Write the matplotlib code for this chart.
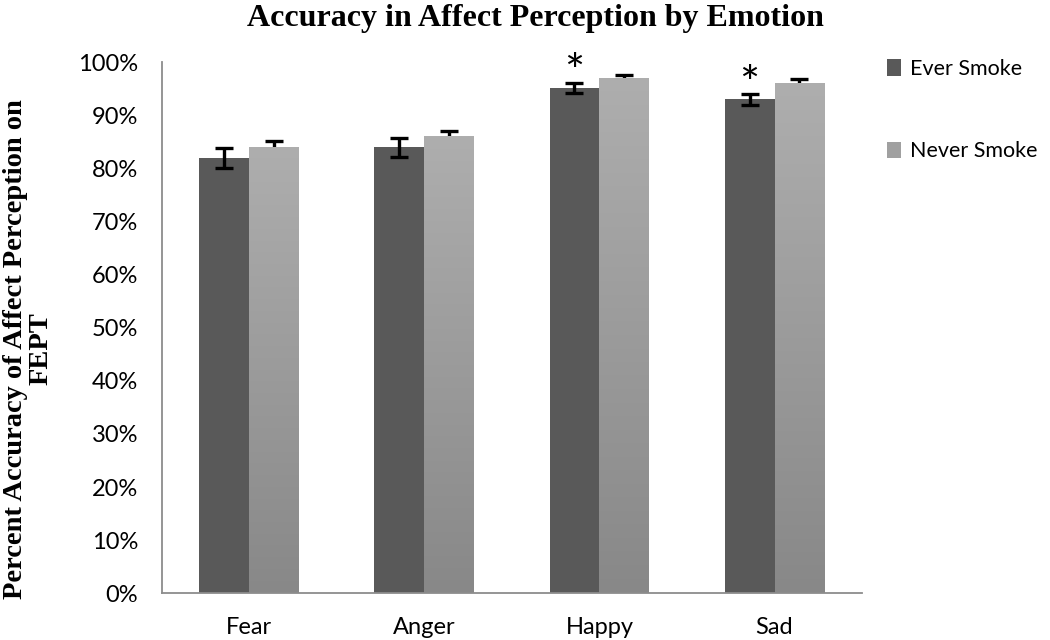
import numpy as np
import matplotlib
matplotlib.use("Agg")
import matplotlib.pyplot as plt
from matplotlib.ticker import PercentFormatter
from matplotlib.colors import LinearSegmentedColormap

# ── data ──────────────────────────────────────────────────────────────────────
emotions = ["Fear", "Anger", "Happy", "Sad"]
ever_smoke = [82.0, 84.0, 95.1, 93.0]
ever_err = [1.9, 1.8, 1.0, 1.0]
never_smoke = [84.0, 86.0, 97.0, 96.1]
never_err = [1.2, 1.1, 0.6, 0.65]
significant = [False, False, True, True]

DARK = "#595959"
serif = ["Liberation Serif", "DejaVu Serif"]
sans = ["Lato", "DejaVu Sans"]

fig = plt.figure(figsize=(10.5, 6.4), dpi=100)
ax = fig.add_axes([0.154, 0.073, 0.667, 0.83])

x = np.arange(len(emotions))
w = 0.285
ekw = dict(elinewidth=2.4, capsize=6.5, capthick=2.4, ecolor="black")
b1 = ax.bar(x - w / 2, ever_smoke, w, color=DARK, yerr=ever_err,
            error_kw=ekw, label="Ever Smoke", zorder=2)
b2 = ax.bar(x + w / 2, never_smoke, w, color="#A0A0A0", yerr=never_err,
            error_kw=ekw, label="Never Smoke", zorder=2)

# vertical gradient on the light bars
cmap = LinearSegmentedColormap.from_list("lg", ["#888888", "#AEAEAE"])
grad = np.linspace(0, 1, 256).reshape(-1, 1)
for bar in b2:
    bx, by = bar.get_x(), bar.get_y()
    bw, bh = bar.get_width(), bar.get_height()
    im = ax.imshow(grad, cmap=cmap, origin="lower", aspect="auto",
                   extent=[bx, bx + bw, by, by + bh], zorder=2.1)
    im.set_clip_path(bar)
    bar.set_facecolor("none")

# significance markers
for i, sig in enumerate(significant):
    if sig:
        ax.annotate("*", (x[i] - w / 2, ever_smoke[i] + ever_err[i]),
                    xytext=(0, 6), textcoords="offset points",
                    ha="center", va="center", fontsize=34,
                    family=sans, color="black")

ax.set_xlim(-0.5, len(emotions) - 0.5)
ax.set_ylim(0, 100)
ax.set_yticks(np.arange(0, 101, 10))
ax.yaxis.set_major_formatter(PercentFormatter(decimals=0))
ax.set_xticks(x)
ax.set_xticklabels(emotions)
ax.tick_params(length=0, labelsize=17)
ax.tick_params(axis="y", pad=17)
ax.tick_params(axis="x", pad=17)
for lab in ax.get_xticklabels() + ax.get_yticklabels():
    lab.set_family(sans)

for s in ["top", "right"]:
    ax.spines[s].set_visible(False)
for s in ["left", "bottom"]:
    ax.spines[s].set_color("#8C8C8C")
    ax.spines[s].set_linewidth(1.3)

fig.text(0.027, 0.455, "Percent Accuracy of Affect Perception on\nFEPT",
         family=serif, fontweight="bold", fontsize=20.5, rotation=90,
         ha="center", va="center", multialignment="center",
         linespacing=1.05)

fig.suptitle("Accuracy in Affect Perception by Emotion", family=serif,
             fontweight="bold", fontsize=23, x=0.51, y=0.993)

leg = fig.legend(handles=[b1, b2], loc="upper left",
                 bbox_to_anchor=(0.826, 0.938), frameon=False,
                 prop=dict(family=sans, size=15.5), handlelength=0.65,
                 handleheight=0.8, handletextpad=0.45, labelspacing=2.9)
leg.legend_handles[1].set_facecolor("#A0A0A0")

fig.savefig("out.png", dpi=100, facecolor="white")
